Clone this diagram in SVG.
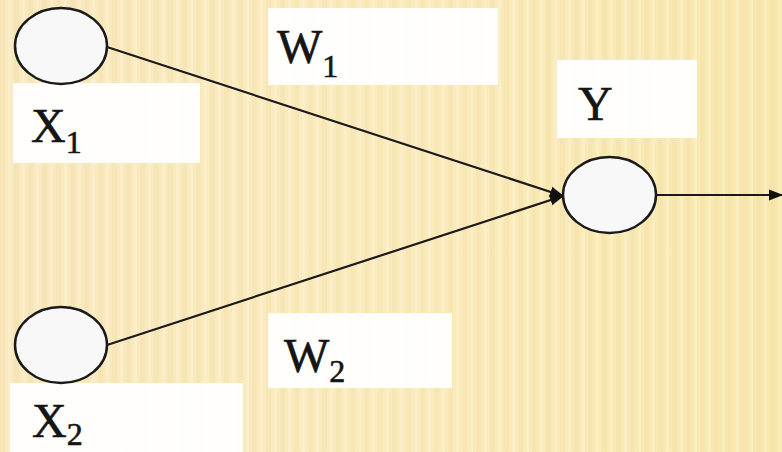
<svg xmlns="http://www.w3.org/2000/svg" width="782" height="452" viewBox="0 0 782 452">
<defs>
<linearGradient id="bg" x1="0" y1="0" x2="1" y2="0">
<stop offset="0" stop-color="#F9E8C0"/>
<stop offset="0.5" stop-color="#FAEBBF"/>
<stop offset="1" stop-color="#F8E8AE"/>
</linearGradient>
<pattern id="stripes" width="14" height="452" patternUnits="userSpaceOnUse">
<rect x="0" y="0" width="5" height="452" fill="#F3DCA0" opacity="0.35"/>
<rect x="8" y="0" width="3" height="452" fill="#FFF6D8" opacity="0.35"/>
</pattern>
<marker id="arrow" markerWidth="14" markerHeight="14" refX="13" refY="7" orient="auto" markerUnits="userSpaceOnUse">
<path d="M0,1.5 L14,7 L0,12.5 Z" fill="#111"/>
</marker>
</defs>
<style>
.box{fill:#FFFFFF;opacity:0.95}
.node{fill:#F8F8F8;stroke:#1a1a1a;stroke-width:2.5}
.edge{stroke:#1a1a1a;stroke-width:2.2;fill:none}
.lbl{font-family:"Liberation Serif",serif;font-size:48px;fill:#151515;stroke:#151515;stroke-width:0.6}
.sub{font-size:32px}
</style>
<rect width="782" height="452" fill="url(#bg)"/>
<rect width="782" height="452" fill="url(#stripes)"/>

<g id="label-boxes">
<rect class="box" x="13" y="83" width="187" height="80"/>
<rect class="box" x="268" y="8" width="230" height="77"/>
<rect class="box" x="557" y="60" width="140" height="78"/>
<rect class="box" x="10" y="383" width="233" height="69"/>
<rect class="box" x="268" y="313" width="184" height="75"/>
</g>

<g id="connectors">
<line class="edge" x1="107" y1="47" x2="563" y2="196" marker-end="url(#arrow)"/>
<line class="edge" x1="107" y1="345" x2="563" y2="196" marker-end="url(#arrow)"/>
<line class="edge" x1="656" y1="195" x2="782" y2="195" marker-end="url(#arrow)"/>
</g>

<g id="node-x1">
<ellipse class="node" cx="61" cy="46" rx="46" ry="38"/>
<text class="lbl" x="31" y="142">X<tspan class="sub" dy="11">1</tspan></text>
</g>

<g id="node-x2">
<ellipse class="node" cx="61" cy="345" rx="46" ry="38"/>
<text class="lbl" x="32" y="437">X<tspan class="sub" dy="8">2</tspan></text>
</g>

<g id="node-y">
<ellipse class="node" cx="609.5" cy="195" rx="46.5" ry="38"/>
<text class="lbl" x="578" y="120">Y</text>
</g>

<g id="weight-w1">
<text class="lbl" x="277" y="63">W<tspan class="sub" dy="14">1</tspan></text>
</g>

<g id="weight-w2">
<text class="lbl" x="284" y="372">W<tspan class="sub" dy="10">2</tspan></text>
</g>
</svg>
